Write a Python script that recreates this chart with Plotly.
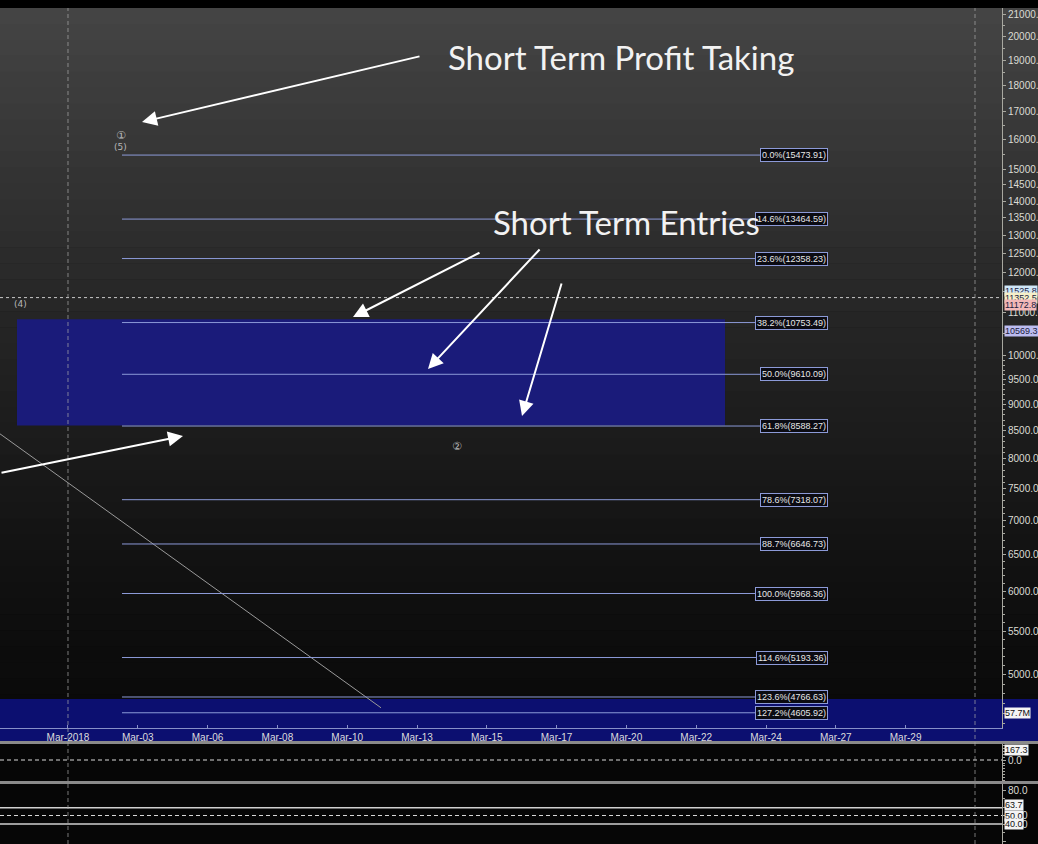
import math
from datetime import datetime, timedelta
import plotly.graph_objects as go

W, H = 1038, 844

# ---------------- data ----------------
x_range = ["2018-02-26 17:27", "2018-04-01 05:20"]
tick_start = "2018-03-01 00:00"
tick_labels = ["Mar-2018", "Mar-03", "Mar-06", "Mar-08", "Mar-10", "Mar-13", "Mar-15",
               "Mar-17", "Mar-20", "Mar-22", "Mar-24", "Mar-27", "Mar-29"]
tick_step_days = 7 / 3

y_ticks = [5000, 5500, 6000, 6500, 7000, 7500, 8000, 8500, 9000, 9500, 10000, 11000,
           12000, 12500, 13000, 13500, 14000, 14500, 15000, 16000, 17000, 18000,
           19000, 20000, 21000]
y_range = [4456, 21300]

fib_pct = ["0.0%", "14.6%", "23.6%", "38.2%", "50.0%", "61.8%", "78.6%", "88.7%",
           "100.0%", "114.6%", "123.6%", "127.2%"]
fib_val = [15473.91, 13464.59, 12358.23, 10753.49, 9610.09, 8588.27, 7318.07, 6646.73,
           5968.36, 5193.36, 4766.63, 4605.92]
fib_start = "2018-03-02 19:19"
fib_end = "2018-03-26 09:45"

zone_x = ["2018-02-27 07:05", "2018-03-22 23:07"]
zone_y = [8600, 10830]

trend_x = ["2018-02-23 09:13", "2018-03-11 11:07"]
trend_y = [9871, 4656]

last_price = 11352.5
price_tags = [("11525.8", 11525.8, "#cfe6f7"), ("11352.5", 11352.5, "#f5efc9"),
              ("11172.8", 11172.8, "#f2b8b8"), ("10569.3", 10569.3, "#bcbcf0")]

marks = [("\u2460", "2018-03-02 18:30", 16160, 11), ("(5)", "2018-03-02 18:30", 15745, 9),
         ("(4)", "2018-02-27 10:17", 11196, 9), ("\u2461", "2018-03-14 00:00", 8208, 11)]

vlines = ["2018-03-01 00:00", "2018-03-31 07:41"]

p1_range = [-368, 268]
p1_level = 0
p1_tag = 167.3
p3_range = [16.47, 87.06]
p3_lines = [59, 40]
p3_mid = 50
p3_ticks = [80, 50, 40, 20]
p3_tags = [("63.7", 62), ("50.0", 50), ("40.0", 40)]

# ---------------- helpers ----------------
def px(x):
    return x / W

def py(y):
    return 1 - y / H

AX_RIGHT = px(1002)
main_dom = [py(728), py(8)]
p1_dom = [py(782), py(744)]
p3_dom = [0, py(784)]

t0 = datetime.strptime(tick_start, "%Y-%m-%d %H:%M")
tick_vals = [t0 + timedelta(days=tick_step_days * i) for i in range(len(tick_labels))]

fig = go.Figure()

# zone rectangle
fig.add_trace(go.Scatter(
    x=[zone_x[0], zone_x[1], zone_x[1], zone_x[0], zone_x[0]],
    y=[zone_y[0], zone_y[0], zone_y[1], zone_y[1], zone_y[0]],
    fill="toself", fillcolor="#1a1b7a", line=dict(width=0), mode="lines",
    hoverinfo="skip", showlegend=False))

# trend line
fig.add_trace(go.Scatter(x=trend_x, y=trend_y, mode="lines",
                         line=dict(color="#9a9a9a", width=1), showlegend=False,
                         hoverinfo="skip"))

# fib lines
fx, fy = [], []
for v in fib_val:
    fx += [fib_start, fib_end, None]
    fy += [v, v, None]
fig.add_trace(go.Scatter(x=fx, y=fy, mode="lines", line=dict(color="#8c9ad8", width=1),
                         showlegend=False, hoverinfo="skip"))

# last price dashed line
fig.add_trace(go.Scatter(x=x_range, y=[last_price, last_price], mode="lines",
                         line=dict(color="#c8c8c8", width=1, dash="3px,3px"),
                         showlegend=False, hoverinfo="skip"))

# panel 1
fig.add_trace(go.Scatter(x=x_range, y=[p1_level, p1_level], mode="lines", xaxis="x2",
                         yaxis="y2", line=dict(color="#d8d8d8", width=1, dash="4px,3px"),
                         showlegend=False, hoverinfo="skip"))
# panel 3
for lv in p3_lines:
    fig.add_trace(go.Scatter(x=x_range, y=[lv, lv], mode="lines", xaxis="x3", yaxis="y3",
                             line=dict(color="#d0d0d0", width=1.5), showlegend=False,
                             hoverinfo="skip"))
fig.add_trace(go.Scatter(x=x_range, y=[p3_mid, p3_mid], mode="lines", xaxis="x3",
                         yaxis="y3", line=dict(color="#d8d8d8", width=1, dash="4px,3px"),
                         showlegend=False, hoverinfo="skip"))

# ---------------- shapes ----------------
shapes = []
# top black bar
shapes.append(dict(type="rect", xref="paper", yref="paper", x0=0, x1=1, y0=py(8), y1=1,
                   fillcolor="#000000", line=dict(width=0), layer="below"))
# gradient background
N = 46
y_top, y_bot = 8, 742
for i in range(N):
    a = y_top + (y_bot - y_top) * i / N
    b = y_top + (y_bot - y_top) * (i + 1) / N
    t = (i + 0.5) / N
    c = int(round(9 + 60 * (1 - t) ** 1.35))
    shapes.append(dict(type="rect", xref="paper", yref="paper", x0=0, x1=1,
                       y0=py(b + 0.5), y1=py(a), fillcolor=f"rgb({c},{c},{c})",
                       line=dict(width=0), layer="below"))
# blue band
shapes.append(dict(type="rect", xref="paper", yref="paper", x0=0, x1=1, y0=py(741),
                   y1=py(699), fillcolor="#0c0f70", line=dict(width=0), layer="below"))
# lower panels background
shapes.append(dict(type="rect", xref="paper", yref="paper", x0=0, x1=1, y0=0,
                   y1=py(741), fillcolor="#060606", line=dict(width=0), layer="below"))
# separators
for yy in (742.5, 782.5):
    shapes.append(dict(type="line", xref="paper", yref="paper", x0=0, x1=1, y0=py(yy),
                       y1=py(yy), line=dict(color="#8a8a8a", width=3), layer="above"))
# vertical dashed lines
for vx in vlines:
    shapes.append(dict(type="line", xref="x", yref="paper", x0=vx, x1=vx, y0=0, y1=py(8),
                       line=dict(color="rgba(170,170,170,0.7)", width=1, dash="4px,3px"),
                       layer="above"))

# ---------------- annotations ----------------
ann = []
for p, v in zip(fib_pct, fib_val):
    ann.append(dict(x=fib_end, y=math.log10(v), xref="x", yref="y", xanchor="right",
                    yanchor="middle", text=f"{p}({v:.2f})", showarrow=False,
                    font=dict(family="Liberation Sans, Arial", size=9, color="#e6e6e6"),
                    bgcolor="#0b0b12", bordercolor="#8c9ad8", borderwidth=1, borderpad=1))
for t, x, y, s in marks:
    ann.append(dict(x=x, y=math.log10(y), xref="x", yref="y", text=t, showarrow=False,
                    xanchor="center", yanchor="middle",
                    font=dict(family="DejaVu Sans, Liberation Sans", size=s, color="#b8b8b8")))
for t, v, col in price_tags:
    ann.append(dict(x=px(1004), y=math.log10(v), xref="paper", yref="y", xanchor="left",
                    yanchor="middle", text=t, showarrow=False, bgcolor=col, borderpad=0,
                    font=dict(family="Liberation Sans, Arial", size=9, color="#202040")))
ann.append(dict(x=px(1004), y=py(713), xref="paper", yref="paper", xanchor="left",
                yanchor="middle", text="57.7M", showarrow=False, bgcolor="#f4f4f4", borderpad=0,
                font=dict(family="Liberation Sans, Arial", size=9, color="#101010")))
ann.append(dict(x=px(1004), y=p1_tag, xref="paper", yref="y2", xanchor="left",
                yanchor="middle", text=f"{p1_tag}", showarrow=False, bgcolor="#f4f4f4",
                borderpad=0, font=dict(family="Liberation Sans, Arial", size=9, color="#101010")))
for t, v in p3_tags:
    ann.append(dict(x=px(1004), y=v, xref="paper", yref="y3", xanchor="left",
                    yanchor="middle", text=t, showarrow=False, bgcolor="#f4f4f4", borderpad=0,
                    font=dict(family="Liberation Sans, Arial", size=9, color="#101010")))

# big labels
ann.append(dict(x=px(621), y=py(57), xref="paper", yref="paper", xanchor="center",
                yanchor="middle", text="Short Term Profit Taking", showarrow=False,
                font=dict(family="Lato", size=33, color="#f2f2f2")))
ann.append(dict(x=px(626), y=py(222), xref="paper", yref="paper", xanchor="center",
                yanchor="middle", text="Short Term Entries", showarrow=False,
                font=dict(family="Lato", size=33, color="#f2f2f2")))

# arrows (tail -> head in screen pixels)
arrows = [((421, 56), (142, 122)), ((481, 252), (353, 317)), ((541, 248), (428, 369)),
          ((562, 282), (522, 416)), ((-20, 473), (183, 436))]
for (tx, ty), (hx, hy) in arrows:
    ann.append(dict(x=px(hx), y=py(hy), xref="paper", yref="paper", ax=tx - hx, ay=ty - hy,
                    axref="pixel", ayref="pixel", text="", showarrow=True, arrowhead=2,
                    arrowsize=1.5, arrowwidth=2, arrowcolor="#ffffff"))

# ---------------- layout ----------------
axfont = dict(family="Liberation Sans, Arial", size=10, color="#dcdcd4")
xfont = dict(family="Liberation Sans, Arial", size=10, color="#dcdcdc")
minor_main = [v for v in range(4500, 21300, 100) if v not in y_ticks and (v < 10000 or v % 250 == 0)]

fig.update_layout(
    template="none",
    width=W, height=H,
    margin=dict(l=0, r=0, t=0, b=0),
    paper_bgcolor="#000000", plot_bgcolor="rgba(0,0,0,0)",
    showlegend=False, hovermode=False,
    shapes=shapes, annotations=ann,
    xaxis=dict(domain=[0, AX_RIGHT], range=x_range, type="date", anchor="y",
               tickmode="array", tickvals=tick_vals, ticktext=tick_labels,
               ticks="inside", ticklen=3, tickcolor="#8890c8", showline=True,
               linecolor="#8890c8", linewidth=1, showgrid=False, zeroline=False,
               tickfont=xfont, automargin=False),
    yaxis=dict(domain=main_dom, type="log", range=[math.log10(y_range[0]), math.log10(y_range[1])],
               side="right", anchor="x", tickmode="array", tickvals=y_ticks,
               ticktext=[f"{v:.2f}" for v in y_ticks], ticks="outside", ticklen=3,
               tickcolor="#a8a8a0", showline=True, linecolor="#a8a8a0", linewidth=1,
               showgrid=False, zeroline=False, tickfont=axfont, automargin=False,
               minor=dict(tickmode="array", tickvals=minor_main, ticks="outside", ticklen=2,
                          tickcolor="#a8a8a0", showgrid=False)),
    xaxis2=dict(domain=[0, AX_RIGHT], range=x_range, type="date", anchor="y2", visible=False,
                matches="x"),
    yaxis2=dict(domain=p1_dom, range=p1_range, side="right", anchor="x2", tickmode="array",
                tickvals=[0], ticktext=["0.0"], ticks="outside", ticklen=3, tickcolor="#a8a8a0",
                showline=True, linecolor="#a8a8a0", showgrid=False, zeroline=False,
                tickfont=axfont, automargin=False,
                minor=dict(dtick=50, ticks="outside", ticklen=2, tickcolor="#a8a8a0", showgrid=False)),
    xaxis3=dict(domain=[0, AX_RIGHT], range=x_range, type="date", anchor="y3", visible=False,
                matches="x"),
    yaxis3=dict(domain=p3_dom, range=p3_range, side="right", anchor="x3", tickmode="array",
                tickvals=p3_ticks, ticktext=[f"{v:.1f}" for v in p3_ticks], ticks="outside",
                ticklen=3, tickcolor="#a8a8a0", showline=True, linecolor="#a8a8a0",
                showgrid=False, zeroline=False, tickfont=axfont, automargin=False,
                minor=dict(dtick=10, ticks="outside", ticklen=2, tickcolor="#a8a8a0", showgrid=False)),
)

fig.write_html("out.html", config={"displayModeBar": False, "staticPlot": True},
               post_script="document.body.style.margin='0px';document.body.style.background='#000';")
